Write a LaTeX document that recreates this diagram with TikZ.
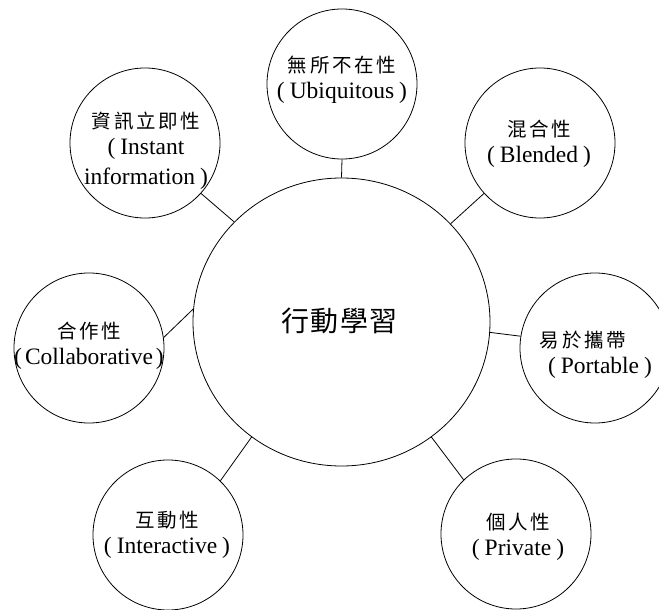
\documentclass[tikz,border=0pt]{standalone}
\usepackage{fontspec}
\setmainfont{Liberation Serif}
\newfontfamily\cjk[LetterSpace=14]{Noto Sans CJK TC}
\newfontfamily\cjkhub[LetterSpace=4]{Noto Sans CJK TC}
\usetikzlibrary{shapes.geometric}

% Chinese line of a bubble label
\newcommand\zhline[1]{{\cjk\fontsize{19.5}{26}\selectfont #1}}
% English term in parentheses
\newcommand\enterm[1]{(\hspace{5pt}#1\hspace{5pt})}

\tikzset{
  hub/.style={ellipse, draw=black, line width=0.8pt,
              minimum width=297pt, minimum height=288pt, inner sep=0pt},
  bubble/.style={circle, draw=black, line width=0.8pt,
                 minimum size=150pt, inner sep=0pt},
  lbl/.style={align=center, inner sep=0pt, text=black,
              font=\fontsize{23.5}{26}\selectfont},
  link/.style={draw=black, line width=0.8pt}
}

\begin{document}
\begin{tikzpicture}[x=1pt,y=-1pt]
\useasboundingbox (0,0) rectangle (659,610);
\clip (0,0) rectangle (659,610);

% central concept
\node[hub] (hub) at (341.5,322) {};
\node[inner sep=0pt] (hubtext) at (339.5,321)
  {\cjkhub\fontsize{28}{30}\selectfont 行動學習};

% surrounding characteristics
\node[bubble] (ubi) at (342,84) {};
\node[bubble] (ins) at (145,143) {};
\node[bubble] (ble) at (540,143) {};
\node[bubble] (col) at (89,348) {};
\node[bubble] (por) at (595,348) {};
\node[bubble] (int) at (168,535) {};
\node[bubble] (pri) at (516,534) {};

\node[lbl] (ubitext) at (342,80) {\zhline{無所不在性}\\\enterm{Ubiquitous}};
\node[lbl] (instext) at (146,151)
  {\zhline{資訊立即性}\\(\hspace{5pt}Instant\\[4pt]information\hspace{5pt})};
\node[lbl] (bletext) at (539,143.5) {\zhline{混合性}\\\enterm{Blended}};
\node[lbl] (coltext) at (89,346) {\zhline{合作性}\\(\hspace{3pt}Collaborative\hspace{3pt})};
% the Chinese line of this label sits left of the English one
\node[lbl] (portext) at (600,355)
  {\zhline{易於攜帶}\rule{34pt}{0pt}\\\enterm{Portable}};
\node[lbl] (inttext) at (167,535) {\zhline{互動性}\\\enterm{Interactive}};
\node[lbl] (pritext) at (518,536.5) {\zhline{個人性}\\\enterm{Private}};

% connectors
\draw[link] (ubi.270) -- (hub.90);
\draw[link] (ins.-42.8) -- (hub.137.6);
\draw[link] (ble.222.9) -- (hub.42.4);
\draw[link] (col.8.3) -- (hub.175.4);
\draw[link] (por.171.3) -- (hub.-4.2);
\draw[link] (int.46.6) -- (hub.232.3);
\draw[link] (pri.134.5) -- (hub.-52.3);
\end{tikzpicture}
\end{document}
